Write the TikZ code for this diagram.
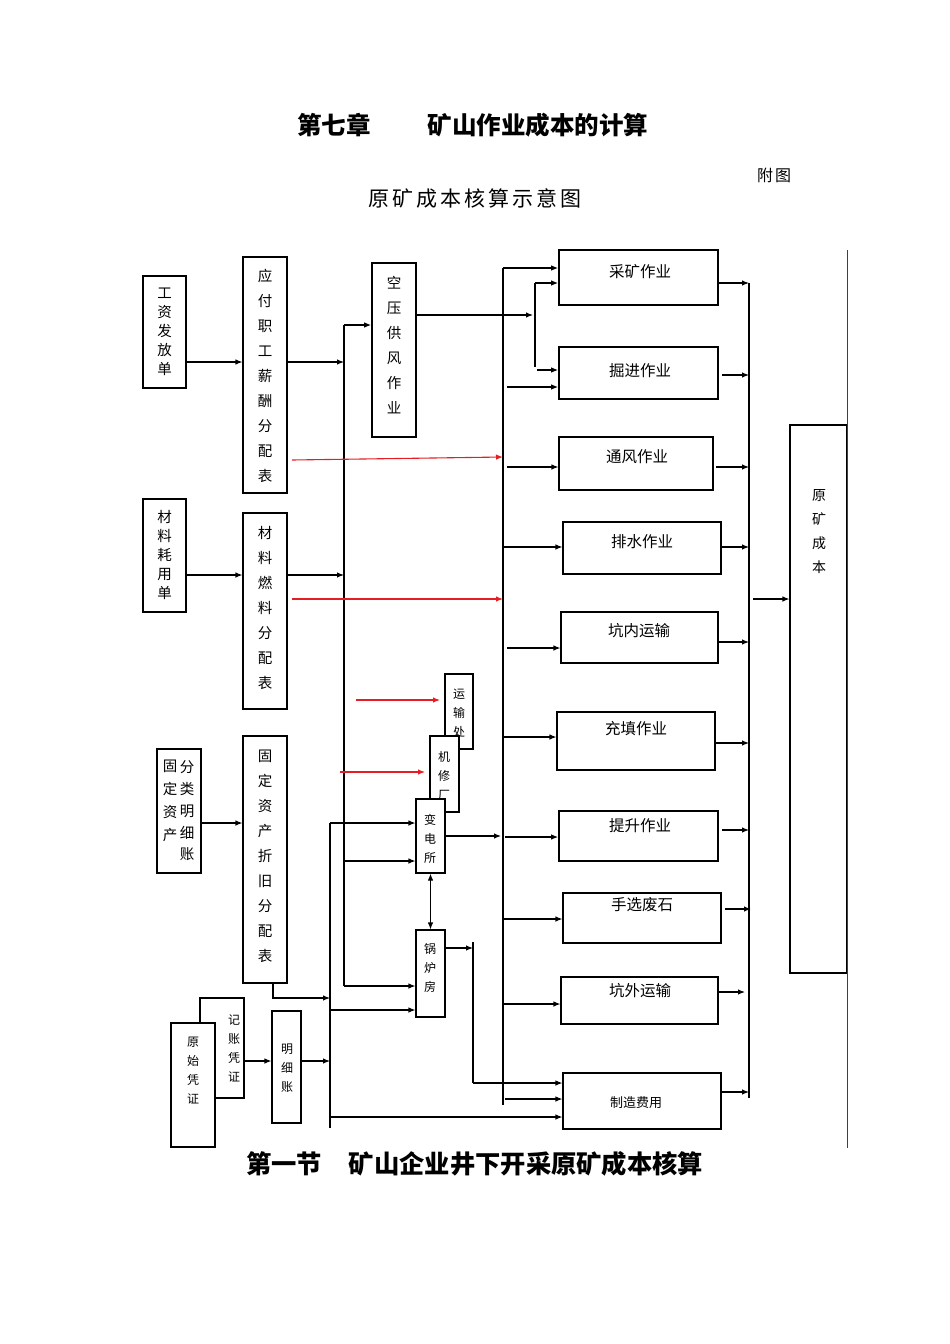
\documentclass[tikz,border=0pt]{standalone}
\usepackage{fontspec}
\setmainfont{Noto Sans CJK SC}
\usetikzlibrary{arrows.meta,fit}
\definecolor{myred}{RGB}{228,30,36}
\begin{document}
\begin{tikzpicture}[x=1pt,y=-1pt,
  box/.style={draw, line width=1.1pt, fill=white, inner sep=0pt},
  tbox/.style={box, line width=1.7pt},
  ln/.style={line width=1.1pt},
  arr/.style={line width=1.1pt, -{Latex[length=7pt,width=5.5pt]}},
  rarr/.style={line width=1.1pt, myred, -{Latex[length=7pt,width=5.5pt]}},
  dbl/.style={line width=1.1pt, {Latex[length=7pt,width=5.5pt]}-{Latex[length=7pt,width=5.5pt]}},
  vt/.style={align=center, inner sep=0pt, font=\fontsize{14.5}{25}\selectfont},
  vtb/.style={align=center, inner sep=0pt, font=\fontsize{14.5}{19}\selectfont},
  vs/.style={align=center, inner sep=0pt, font=\fontsize{12}{19}\selectfont},
  ht/.style={inner sep=0pt, font=\fontsize{15.5}{18}\selectfont},
  ttl/.style={inner sep=0pt, font=\fontsize{24.5}{26}\selectfont\bfseries},
  ttlb/.style={inner sep=0pt, font=\fontsize{25.3}{27}\selectfont\bfseries},
]
\useasboundingbox (0,0) rectangle (950,1344);

% titles
\node[ttl] (t1) at (334,125) {第七章};
\node[ttl] (t2) at (538,125) {矿山作业成本的计算};
\node[inner sep=0pt, font=\fontsize{16}{16}\selectfont] (fu) at (774,175) {附\hspace{2pt}图};
\node[inner sep=0pt, font=\fontsize{21}{21}\selectfont] (sub) at (475,198) {原\hspace{3pt}矿\hspace{3pt}成\hspace{3pt}本\hspace{3pt}核\hspace{3pt}算\hspace{3pt}示\hspace{3pt}意\hspace{3pt}图};
\node[ttlb] (b1) at (284,1164) {第一节};
\node[ttlb] (b2) at (526,1164) {矿山企业井下开采原矿成本核算};

% left boxes
\node[box, fit={(143,276) (186,388)}] (gz) {};
\node[vtb] (gzt) at (164.5,332) {工\\资\\发\\放\\单};
\node[box, fit={(243,257) (287,493)}] (yf) {};
\node[vt] (yft) at (265,376) {应\\付\\职\\工\\薪\\酬\\分\\配\\表};
\node[tbox, fit={(372,263) (416,437)}] (ky) {};
\node[vt] (kyt) at (394,345) {空\\压\\供\\风\\作\\业};
\node[box, fit={(143,499) (186,612)}] (clh) {};
\node[vtb] (clht) at (164.5,555) {材\\料\\耗\\用\\单};
\node[box, fit={(243,513) (287,709)}] (clr) {};
\node[vt] (clrt) at (265,608) {材\\料\\燃\\料\\分\\配\\表};
\node[box, fit={(157,749) (201,873)}] (gdf) {};
\node[align=center, inner sep=0pt, font=\fontsize{14.5}{23}\selectfont] (gdfa) at (170,801) {固\\定\\资\\产};
\node[align=center, inner sep=0pt, font=\fontsize{14.5}{21.7}\selectfont] (gdfb) at (187,811) {分\\类\\明\\细\\账};
\node[box, fit={(243,736) (287,983)}] (zj) {};
\node[vt] (zjt) at (265,856) {固\\定\\资\\产\\折\\旧\\分\\配\\表};

% small service boxes
\node[box, fit={(445,674) (473,749)}] (ysc) {};
\node[vs] (ysct) at (459,713) {运\\输\\处};
\node[tbox, fit={(430,736) (459,812)}] (jx) {};
\node[vs] (jxt) at (444,776) {机\\修\\厂};
\node[box, fit={(416,799) (445,873)}] (bd) {};
\node[vs] (bdt) at (430,839) {变\\电\\所};
\node[box, fit={(416,930) (445,1017)}] (gl) {};
\node[vs] (glt) at (430,968) {锅\\炉\\房};

% voucher boxes
\node[box, fit={(200,998) (244,1098)}] (jz) {};
\node[vs] (jzt) at (234,1048) {记\\账\\凭\\证};
\node[box, fit={(171,1023) (215,1147)}] (ysp) {};
\node[vs] (yspt) at (193,1071) {原\\始\\凭\\证};
\node[box, fit={(272,1011) (301,1123)}] (mx) {};
\node[vs] (mxt) at (287,1068) {明\\细\\账};

% operation boxes
\node[tbox, fit={(559,250) (718,305)}] (ck) {};
\node[ht] (ckt) at (640,272) {采矿作业};
\node[tbox, fit={(559,347) (718,399)}] (jj) {};
\node[ht] (jjt) at (640,371) {掘进作业};
\node[box, fit={(559,437) (713,490)}] (tf) {};
\node[ht] (tft) at (637,457) {通风作业};
\node[box, fit={(563,522) (721,574)}] (ps) {};
\node[ht] (pst) at (642,542) {排水作业};
\node[box, fit={(561,612) (718,663)}] (kn) {};
\node[ht] (knt) at (639,631) {坑内运输};
\node[box, fit={(557,712) (715,770)}] (ct) {};
\node[ht] (ctt) at (636,729) {充填作业};
\node[tbox, fit={(559,811) (718,861)}] (ts) {};
\node[ht] (tst) at (640,826) {提升作业};
\node[box, fit={(563,893) (721,943)}] (sx) {};
\node[ht] (sxt) at (642,905) {手选废石};
\node[box, fit={(561,977) (718,1024)}] (kw) {};
\node[ht] (kwt) at (640,991) {坑外运输};
\node[box, fit={(563,1073) (721,1129)}] (zz) {};
\node[inner sep=0pt, font=\fontsize{13}{15}\selectfont] (zzt) at (636,1103) {制造费用};

% final box
\node[box, fit={(790,425) (847,973)}] (yk) {};
\node[align=center, inner sep=0pt, font=\fontsize{14}{24}\selectfont] (ykt) at (819,532) {原\\矿\\成\\本};
\draw[line width=0.8pt, black!75] (yk.east |- 0,250) -- (yk.east |- 0,1148);

% bus lines (free ends)
\coordinate (bA1) at (344,325); \coordinate (bA2) at (344,986);
\coordinate (bB1) at (330,823); \coordinate (bB2) at (330,1128);
\coordinate (bC1) at (503,268); \coordinate (bC2) at (503,1105);
\coordinate (bD1) at (749,283); \coordinate (bD2) at (749,1098);
\coordinate (bE1) at (535,283); \coordinate (bE2) at (535,367);
\coordinate (bF1) at (473,942); \coordinate (bF2) at (473,1083);
\draw[ln] (bA1) -- (bA2);
\draw[ln] (bB1) -- (bB2);
\draw[ln] (bC1) -- (bC2);
\draw[ln] (bD1) -- (bD2);
\draw[ln] (bE1) -- (bE2);
\draw[ln] (bF1) -- (bF2);

% left inputs
\draw[arr] (gz.east |- 0,362) -- (yf.west |- 0,362);
\draw[arr] (yf.east |- 0,362) -- (bA1 |- 0,362);
\draw[arr] (bA1) -- (ky.west |- bA1);
\draw[arr] (clh.east |- 0,575) -- (clr.west |- 0,575);
\draw[arr] (clr.east |- 0,575) -- (bA1 |- 0,575);
\draw[arr] (gdf.east |- 0,823) -- (zj.west |- 0,823);
\draw[arr] (273,983) -- (273,998) -- (bB1 |- 0,998);
\draw[arr] (jz.east |- 0,1061) -- (mx.west |- 0,1061);
\draw[arr] (mx.east |- 0,1061) -- (bB1 |- 0,1061);

% red arrows
\draw[rarr] (292,460) -- (bC1 |- 0,457);
\draw[rarr] (292,599) -- (bC1 |- 0,599);
\draw[rarr] (356,700) -- (440,700);
\draw[rarr] (340,772) -- (425,772);

% service boxes
\draw[arr] (bB1) -- (bd.west |- bB1);
\draw[arr] (bA1 |- 0,861) -- (bd.west |- 0,861);
\draw[arr] (bA2) -- (gl.west |- bA2);
\draw[arr] (bB1 |- 0,1010) -- (gl.west |- 0,1010);
\draw[dbl] (bd.south) -- (gl.north);
\draw[arr] (bd.east |- 0,836) -- (501,836);
\draw[arr] (gl.east |- 0,948) -- (bF1 |- 0,948);
\draw[arr] (bF2) -- (zz.west |- bF2);
\draw[arr] (bB1 |- 0,1117) -- (zz.west |- 0,1117);

% compressed air
\draw[arr] (ky.east |- 0,315) -- (533,315);
\draw[arr] (bE1) -- (ck.west |- bE1);
\draw[arr] (537,370) -- (jj.west |- 0,370);

% main bus to operations
\draw[arr] (bC1) -- (ck.west |- bC1);
\draw[arr] (507,387) -- (jj.west |- 0,387);
\draw[arr] (507,467) -- (tf.west |- 0,467);
\draw[arr] (503,547) -- (ps.west |- 0,547);
\draw[arr] (507,648) -- (kn.west |- 0,648);
\draw[arr] (503,737) -- (ct.west |- 0,737);
\draw[arr] (505,837) -- (ts.west |- 0,837);
\draw[arr] (503,919) -- (sx.west |- 0,919);
\draw[arr] (503,1004) -- (kw.west |- 0,1004);
\draw[arr] (505,1099) -- (zz.west |- 0,1099);

% operations to right bus
\draw[arr] (ck.east |- 0,283) -- (bD1);
\draw[arr] (722,375) -- (bD1 |- 0,375);
\draw[arr] (716,467) -- (bD1 |- 0,467);
\draw[arr] (ps.east |- 0,547) -- (bD1 |- 0,547);
\draw[arr] (kn.east |- 0,642) -- (bD1 |- 0,642);
\draw[arr] (ct.east |- 0,743) -- (bD1 |- 0,743);
\draw[arr] (722,830) -- (bD1 |- 0,830);
\draw[arr] (725,909) -- (751,909);
\draw[arr] (kw.east |- 0,992) -- (745,992);
\draw[arr] (zz.east |- 0,1092) -- (bD1 |- 0,1092);
\draw[arr] (753,599) -- (yk.west |- 0,599);
\end{tikzpicture}
\end{document}
